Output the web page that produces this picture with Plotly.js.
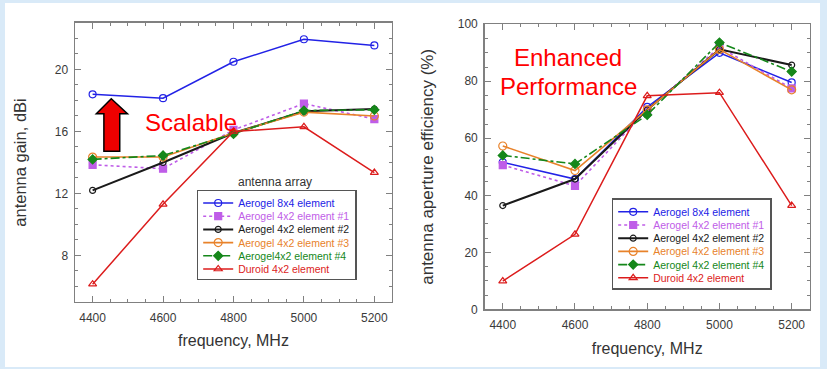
<!DOCTYPE html>
<html><head><meta charset="utf-8">
<script src="https://cdn.plot.ly/plotly-3.0.1.min.js"></script>
<style>
html,body{margin:0;padding:0;background:#d9eaf8;width:827px;height:369px;overflow:hidden;}
#plot{position:absolute;left:5px;top:3px;width:815px;height:364px;}
</style></head><body><div id="plot"></div><script>
// ---- data ----
const freq = [4400, 4600, 4800, 5000, 5200];
const namesLeft = ['Aerogel 8x4 element', 'Aerogel 4x2 element #1', 'Aerogel 4x2 element #2', 'Aerogel 4x2 element #3', 'Aerogel4x2 element #4', 'Duroid 4x2 element'];
const namesRight = ['Aerogel 8x4 element', 'Aerogel 4x2 element #1', 'Aerogel 4x2 element #2', 'Aerogel 4x2 element #3', 'Aerogel 4x2 element #4', 'Duroid 4x2 element'];
const gain8x4 = [18.4, 18.15, 20.5, 21.95, 21.55];
const gain1 = [13.85, 13.6, 16.1, 17.8, 16.8];
const gain2 = [12.2, 14.0, 15.9, 17.3, 17.45];
const gain3 = [14.35, 14.35, 15.9, 17.25, 17.0];
const gain4 = [14.2, 14.45, 15.85, 17.35, 17.4];
const gainDuroid = [6.15, 11.3, 16.0, 16.3, 13.35];
const eff8x4 = [51.6, 45.7, 71, 90, 79.6];
const eff1 = [50.6, 43.3, 70, 92, 77.5];
const eff2 = [36.4, 45.7, 70, 91.2, 85.7];
const eff3 = [57.3, 48.7, 70, 91.2, 77];
const eff4 = [54, 51, 68.2, 93.6, 83.4];
const effDuroid = [9.9, 26.3, 74.9, 76, 36.4];

// ---- styles ----
const F = 'Arial, "Liberation Sans", sans-serif';
const styles = [
  {color:'#2222e6', dash:'solid', width:1.5, symbol:'circle-open', size:7},
  {color:'#bf5de8', dash:'dot', width:1.6, symbol:'square', size:7},
  {color:'#1a1a1a', dash:'solid', width:2, symbol:'circle-open', size:6},
  {color:'#e8822a', dash:'solid', width:1.6, symbol:'circle-open', size:8},
  {color:'#15871a', dash:'dashdot', width:1.6, symbol:'diamond', size:7},
  {color:'#dc1c1c', dash:'solid', width:1.5, symbol:'triangle-up-open', size:7}
];
const gainSeries = [gain8x4, gain1, gain2, gain3, gain4, gainDuroid];
const effSeries = [eff8x4, eff1, eff2, eff3, eff4, effDuroid];

function mk(ys, i, names, xa, ya, lg) {
  const s = styles[i];
  return {
    type:'scatter', mode:'lines+markers', x:freq, y:ys, xaxis:xa, yaxis:ya, legend:lg,
    name:'<span style="color:' + s.color + '">' + names[i] + '</span>',
    line:{color:s.color, dash:s.dash, width:s.width},
    marker:{symbol:s.symbol, size:s.size, color:s.color, line:{color:s.color, width:1.2}}
  };
}
const data = [];
gainSeries.forEach((ys, i) => data.push(mk(ys, i, namesLeft, 'x', 'y', 'legend')));
effSeries.forEach((ys, i) => data.push(mk(ys, i, namesRight, 'x2', 'y2', 'legend2')));

const axisBase = {showline:true, linecolor:'#808080', linewidth:1.5, mirror:'allticks', ticks:'inside',
  ticklen:6, tickwidth:1, tickcolor:'#808080', showgrid:false, zeroline:false,
  tickfont:{family:F, size:12, color:'#3a3a3a'}};
const titleFont = (s) => ({family:F, size:s, color:'#333'});

const layout = {
  width:815, height:364, margin:{l:0, r:0, t:0, b:0},
  paper_bgcolor:'white', plot_bgcolor:'white', font:{family:F},
  xaxis: Object.assign({}, axisBase, {domain:[0.0859, 0.4748], range:[4350, 5250], tick0:4400, dtick:200, anchor:'y',
    ticklabelstandoff:4,
    minor:{dtick:50, ticklen:3, ticks:'inside', tickcolor:'#808080'},
    title:{text:'frequency, MHz', font:titleFont(16), standoff:11}}),
  yaxis: Object.assign({}, axisBase, {domain:[0.1786, 0.9451], range:[5, 23], tick0:0, dtick:4, anchor:'x',
    ticklabelstandoff:3,
    minor:{dtick:1, ticklen:3, ticks:'inside', tickcolor:'#808080'},
    title:{text:'antenna gain, dBi', font:titleFont(16.5), standoff:24}}),
  xaxis2: Object.assign({}, axisBase, {domain:[0.5886, 0.9874], range:[4350, 5250], tick0:4400, dtick:200, anchor:'y2',
    ticklabelstandoff:4,
    minor:{dtick:50, ticklen:3, ticks:'inside', tickcolor:'#808080'},
    title:{text:'frequency, MHz', font:titleFont(16), standoff:11}}),
  yaxis2: Object.assign({}, axisBase, {domain:[0.1585, 0.9415], range:[0, 100], tick0:0, dtick:20, anchor:'x2',
    ticklabelstandoff:3,
    minor:{dtick:5, ticklen:3, ticks:'inside', tickcolor:'#808080'},
    title:{text:'antenna aperture efficiency (%)', font:titleFont(17), standoff:20}}),
  legend:{x:0.2352, y:0.4863, xanchor:'left', yanchor:'top', bgcolor:'white', bordercolor:'#555', borderwidth:1.5,
    font:{family:F, size:10.5}, tracegroupgap:0},
  legend2:{x:0.7444, y:0.4635, xanchor:'left', yanchor:'top', bgcolor:'white', bordercolor:'#555', borderwidth:1.5,
    font:{family:F, size:10.5}, tracegroupgap:0},
  showlegend:true,
  annotations:[
    {xref:'x', yref:'y', x:4678, y:16.58, text:'Scalable', showarrow:false, font:{family:F, size:24, color:'#ff0000'}},
    {xref:'x', yref:'y', x:4918, y:12.73, text:'antenna array', showarrow:false, font:{family:F, size:12, color:'#333'}},
    {xref:'x2', yref:'y2', x:4582, y:88.5, text:'Enhanced', showarrow:false, font:{family:F, size:24, color:'#ff0000'}},
    {xref:'x2', yref:'y2', x:4582, y:78.35, text:'Performance', showarrow:false, font:{family:F, size:24, color:'#ff0000'}}
  ],
  shapes:[
    {type:'path', xref:'x', yref:'y', layer:'above',
     path:'M 4453 18.11 L 4410.5 17.14 L 4432 17.14 L 4432 14.73 L 4477 14.73 L 4477 17.14 L 4499 17.14 Z',
     fillcolor:'#ee0000', line:{color:'#000', width:1.5}}
  ]
};

function parseT(t) {
  const m = /translate\(\s*([-\d.e]+)[ ,]+([-\d.e]+)\s*\)/.exec(t || '');
  return m ? [parseFloat(m[1]), parseFloat(m[2])] : [0, 0];
}
function compress(cls, y0, step, pad) {
  const lg = document.querySelector('#plot g.' + cls);
  if (!lg) return;
  const items = Array.from(lg.querySelectorAll('g.traces'));
  if (!items.length) return;
  items.forEach((it, i) => {
    const p = parseT(it.getAttribute('transform'));
    it.setAttribute('transform', 'translate(' + p[0] + ',' + (y0 + i * step) + ')');
  });
  const bg = lg.querySelector('rect.bg');
  if (bg) bg.setAttribute('height', y0 + (items.length - 1) * step + pad);
}
Plotly.newPlot('plot', data, layout, {displayModeBar:false, staticPlot:true}).then(() => {
  compress('legend', 13, 13.2, 10);
  compress('legend2', 13.5, 13.2, 10.5);
});
</script></body></html>
